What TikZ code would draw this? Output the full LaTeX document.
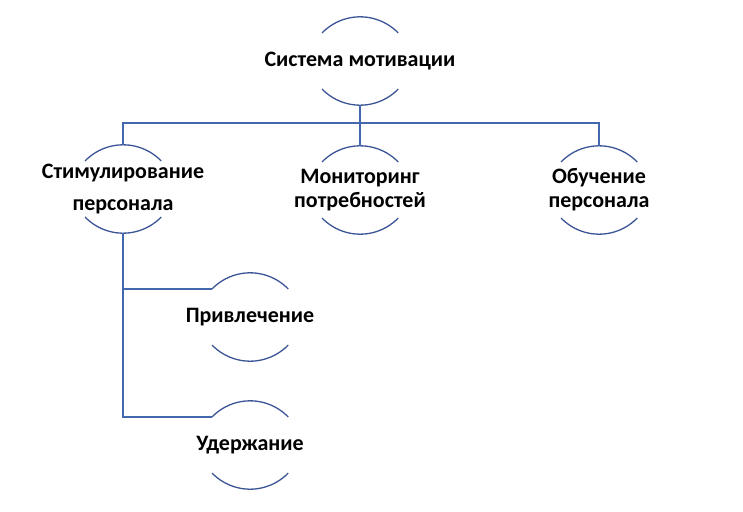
\documentclass[tikz,border=0pt]{standalone}
\usepackage{fontspec}
\setmainfont{Carlito}
\usetikzlibrary{positioning, calc}

\definecolor{linkblue}{RGB}{68,104,176}
\definecolor{rimblue}{RGB}{58,84,150}

\tikzset{
  unit/.style={minimum height=88pt, minimum width=76pt, inner sep=0pt, align=center},
  link/.style={draw=linkblue, line width=1.5pt},
  rim/.style={draw=rimblue, line width=1.3pt}
}

\begin{document}
\begin{tikzpicture}[x=1pt, y=1pt]\fontsize{22}{24}\selectfont\bfseries
  \useasboundingbox (0,0) rectangle (743,-511);

  \node[unit] (sys)  at (360,-61)  {Система мотивации};
  \node[unit] (stim) at (123,-189) {Стимулирование\\[8pt]персонала};
  \node[unit] (mon)  at (360,-190) {Мониторинг\\потребностей};
  \node[unit] (obu)  at (599,-190) {Обучение\\персонала};
  \node[unit] (priv) at (250,-317) {Привлечение};
  \node[unit] (uder) at (250,-445) {Удержание};

  % upper and lower rims of every unit
  \foreach \n in {sys,stim,mon,obu,priv,uder}{
    \coordinate (\n-tl) at ([shift={(-38pt,28pt)}]\n.center);
    \draw[rim] (\n-tl) arc[start angle=136, end angle=44, radius=53pt];
    \draw[rim] ([shift={(-38pt,-28pt)}]\n.center) arc[start angle=224, end angle=316, radius=53pt];
  }

  \draw[link] (sys.south) -- (mon.north);
  \draw[link] (stim.north) |- ([yshift=-18pt]sys.south) -| (obu.north);
  \draw[link] (stim.south) |- (uder-tl);
  \draw[link] (stim.south |- priv-tl) -- (priv-tl);
\end{tikzpicture}
\end{document}
